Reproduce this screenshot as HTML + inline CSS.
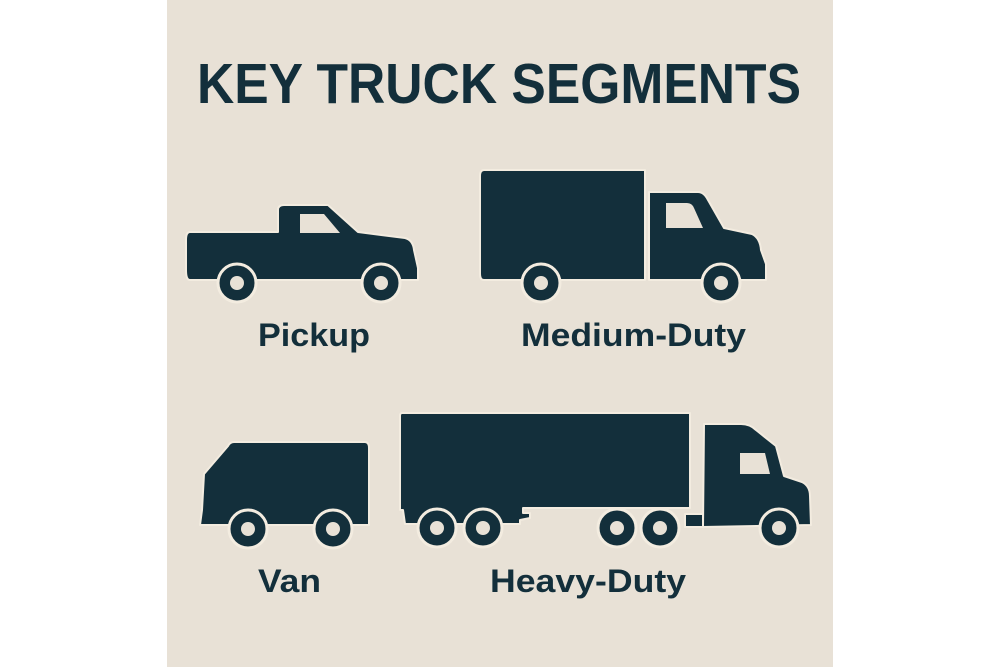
<!DOCTYPE html>
<html><head><meta charset="utf-8"><style>
html,body{margin:0;padding:0;background:#fff;}
svg{display:block;}
</style></head><body>
<svg width="1000" height="667" viewBox="0 0 1000 667" xmlns="http://www.w3.org/2000/svg">
<rect x="0" y="0" width="1000" height="667" fill="#ffffff"/>
<rect x="167" y="0" width="666" height="667" fill="#e8e1d6"/>
<g font-family="Liberation Sans, sans-serif" font-weight="bold" fill="#132f3b">
<text x="197" y="103" font-size="57" textLength="604" lengthAdjust="spacingAndGlyphs">KEY TRUCK SEGMENTS</text>
<text x="258" y="346" font-size="32" textLength="112" lengthAdjust="spacingAndGlyphs">Pickup</text>
<text x="521" y="346" font-size="32" textLength="225" lengthAdjust="spacingAndGlyphs">Medium-Duty</text>
<text x="258" y="592" font-size="32" textLength="63" lengthAdjust="spacingAndGlyphs">Van</text>
<text x="490" y="592" font-size="32" textLength="196" lengthAdjust="spacingAndGlyphs">Heavy-Duty</text>
</g>
<g fill="#132f3b" stroke="#f3ece0" stroke-width="2" stroke-linejoin="round">
<!-- Pickup -->
<path d="M190 232 L278 232 L278 210 Q278 205 284 205 L328 205 L358 232 L405 238 Q413 240 414 250 L418 268 L418 280 L190 280 Q186 280 186 270 L186 240 Q186 232 190 232 Z"/>
<!-- Medium -->
<path d="M484 170 L645 170 L645 280 L484 280 Q480 280 480 274 L480 176 Q480 170 484 170 Z"/>
<path d="M649 192 L698 192 Q704 192 708 200 L724 228 L752 234 Q760 238 761 250 L766 264 L766 280 L649 280 Z"/>
<!-- Van -->
<path d="M234 442 L365 442 Q369 442 369 448 L369 525 L200 525 L202 510 L204 474 L228 446 Q230 442 234 442 Z"/>
<!-- Heavy trailer -->
<path d="M402 413 L690 413 L690 508 L523 508 L523 513 L530 513 L530 518 L520 520 L520 524 L405 524 L403 510 L400 510 L400 416 Q400 413 402 413 Z"/>
<path d="M685 514 L703 514 L703 527 L685 527 Z"/>
<!-- Heavy cab -->
<path d="M704 424 L741 424 Q750 424 756 430 L776 446 L784 476 L802 482 Q810 486 810 496 L811 525 L703 527 Z"/>
</g>
<g fill="#e8e1d6">
<path d="M300 214 L324 214 L340 233 L300 233 Z"/>
<path d="M666 203 L687 203 Q692 203 694 208 L703 228 L666 228 Z"/>
<path d="M740 453 L765 453 L770 474 L740 474 Z"/>
</g>
<g fill="#132f3b" stroke="#f3ece0" stroke-width="3">
<circle cx="237" cy="283" r="19"/><circle cx="381" cy="283" r="19"/>
<circle cx="541" cy="283" r="19"/><circle cx="721" cy="283" r="19"/>
<circle cx="248" cy="529" r="19"/><circle cx="333" cy="529" r="19"/>
<circle cx="437" cy="528" r="19"/><circle cx="483" cy="528" r="19"/>
<circle cx="617" cy="528" r="19"/><circle cx="660" cy="528" r="19"/>
<circle cx="779" cy="528" r="19"/>
</g>
<g fill="#e8e1d6">
<circle cx="237" cy="283" r="7"/><circle cx="381" cy="283" r="7"/>
<circle cx="541" cy="283" r="7"/><circle cx="721" cy="283" r="7"/>
<circle cx="248" cy="529" r="7"/><circle cx="333" cy="529" r="7"/>
<circle cx="437" cy="528" r="7"/><circle cx="483" cy="528" r="7"/>
<circle cx="617" cy="528" r="7"/><circle cx="660" cy="528" r="7"/>
<circle cx="779" cy="528" r="7"/>
</g>
</svg>
</body></html>
